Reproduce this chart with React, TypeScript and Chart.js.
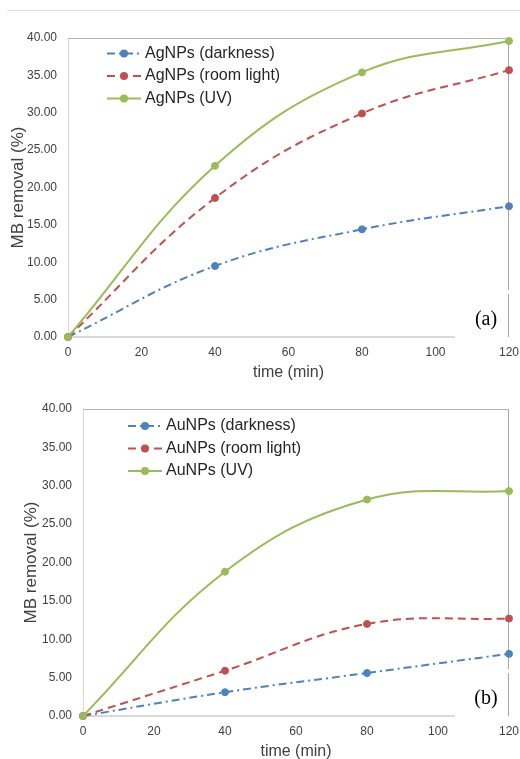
import React, { useEffect, useRef } from "react";
import { Chart, registerables } from "chart.js";

Chart.register(...registerables);

// ---- data ----
const timeMin = [0, 40, 80, 120];

const agDarkness = [0, 9.5, 14.4, 17.5];
const agRoomLight = [0, 18.6, 29.9, 35.7];
const agUV = [0, 22.9, 35.4, 39.6];

const auDarkness = [0, 3.1, 5.6, 8.1];
const auRoomLight = [0, 5.9, 12.0, 12.7];
const auUV = [0, 18.8, 28.2, 29.3];

const agLabels = ["AgNPs (darkness)", "AgNPs (room light)", "AgNPs (UV)"];
const auLabels = ["AuNPs (darkness)", "AuNPs (room light)", "AuNPs (UV)"];

const xTitle = "time (min)";
const yTitle = "MB removal (%)";

const COLORS = ["#4F81BD", "#C0504D", "#9BBB59"];
const DASHES = [[8, 4, 2, 4], [8, 5], []];

const FONT = "'Liberation Sans', Arial, sans-serif";
const TEXT = "#404040";

type PanelProps = {
  top: number;
  height: number;
  labels: string[];
  values: number[][];
  padTop: number;
  yAxisWidth: number;
  yTitlePad: number;
  legendDx: number;
  legendDy: number;
  tag: string;
};

function Panel(p: PanelProps) {
  const ref = useRef<HTMLCanvasElement | null>(null);
  useEffect(() => {
    if (!ref.current) return;
    const datasets = p.values.map((vals, i) => ({
      label: p.labels[i],
      data: vals.map((v, j) => ({ x: timeMin[j], y: v })),
      borderColor: COLORS[i],
      backgroundColor: COLORS[i],
      borderDash: DASHES[i],
      borderWidth: 2,
      pointRadius: 3.5,
      pointBorderWidth: 1,
      pointBorderColor: COLORS[i],
      pointBackgroundColor: COLORS[i],
      tension: 0.4,
      fill: false,
      clip: false as any,
      order: 3 - i,
    }));

    const decor = {
      id: "decor",
      beforeDatasetsDraw(chart: any) {
        const { ctx, chartArea: a } = chart;
        ctx.save();
        ctx.setLineDash([]);
        // left axis line
        ctx.strokeStyle = "#D9D9D9";
        ctx.lineWidth = 1;
        ctx.beginPath();
        ctx.moveTo(a.left + 0.5, a.top);
        ctx.lineTo(a.left + 0.5, a.bottom);
        ctx.stroke();
        // bottom axis line
        ctx.lineWidth = 2;
        ctx.beginPath();
        ctx.moveTo(a.left, a.bottom);
        ctx.lineTo(a.right - 54, a.bottom);
        ctx.stroke();
        // top border
        ctx.strokeStyle = "#B4B4B4";
        ctx.lineWidth = 1;
        ctx.beginPath();
        ctx.moveTo(a.left, a.top + 0.5);
        ctx.lineTo(a.right, a.top + 0.5);
        ctx.stroke();
        // right border (with small gap behind tag box)
        ctx.strokeStyle = "#A6A6A6";
        ctx.beginPath();
        ctx.moveTo(a.right - 0.5, a.top);
        ctx.lineTo(a.right - 0.5, a.bottom - 47);
        ctx.moveTo(a.right - 0.5, a.bottom - 43);
        ctx.lineTo(a.right - 0.5, a.bottom);
        ctx.stroke();
        ctx.restore();
      },
      afterDraw(chart: any) {
        const { ctx, chartArea: a } = chart;
        ctx.save();
        chart.data.datasets.forEach((ds: any, i: number) => {
          const y = a.top + p.legendDy + i * 22.5;
          const x0 = a.left + p.legendDx;
          ctx.strokeStyle = ds.borderColor;
          ctx.lineWidth = 2;
          ctx.setLineDash(ds.borderDash);
          ctx.beginPath();
          ctx.moveTo(x0, y);
          ctx.lineTo(x0 + 34, y);
          ctx.stroke();
          ctx.setLineDash([]);
          ctx.fillStyle = ds.borderColor;
          ctx.beginPath();
          ctx.arc(x0 + 17, y, 4, 0, Math.PI * 2);
          ctx.fill();
          ctx.fillStyle = "#262626";
          ctx.font = `16px ${FONT}`;
          ctx.textBaseline = "middle";
          ctx.textAlign = "left";
          ctx.fillText(ds.label, x0 + 38, y);
        });
        ctx.fillStyle = "#000";
        ctx.font = `20px 'Liberation Serif', 'Times New Roman', serif`;
        ctx.textAlign = "center";
        ctx.textBaseline = "middle";
        ctx.fillText(p.tag, a.right - 23, a.bottom - 17);
        ctx.restore();
      },
    };

    const chart = new Chart(ref.current, {
      type: "line",
      data: { datasets },
      options: {
        animation: false,
        responsive: false,
        maintainAspectRatio: false,
        layout: { padding: { top: p.padTop, right: 11, left: 0, bottom: 0 } },
        plugins: { legend: { display: false }, tooltip: { enabled: false } },
        scales: {
          x: {
            type: "linear",
            min: 0,
            max: 120,
            grid: { display: false, drawTicks: false },
            border: { display: false },
            ticks: { stepSize: 20, padding: 8, color: TEXT, font: { family: FONT, size: 12 } },
            title: {
              display: true,
              text: xTitle,
              color: TEXT,
              font: { family: FONT, size: 16 },
              padding: { top: 0, bottom: 0 },
            },
            afterFit: (s: any) => {
              s.height = 45;
              s.paddingLeft = 0;
              s.paddingRight = 0;
            },
          },
          y: {
            min: 0,
            max: 40,
            grid: { display: false, drawTicks: false },
            border: { display: false },
            ticks: {
              stepSize: 5,
              padding: 11,
              color: TEXT,
              font: { family: FONT, size: 12 },
              callback: (v: any) => Number(v).toFixed(2),
            },
            title: {
              display: true,
              text: yTitle,
              color: TEXT,
              font: { family: FONT, size: 17 },
              padding: { top: p.yTitlePad, bottom: 0 },
            },
            afterFit: (s: any) => {
              s.width = p.yAxisWidth;
              s.paddingTop = 0;
              s.paddingBottom = 0;
            },
          },
        },
      },
      plugins: [decor],
    } as any);
    return () => chart.destroy();
  }, []);
  return (
    <canvas
      ref={ref}
      width={520}
      height={p.height}
      style={{ position: "absolute", left: 0, top: p.top, width: 520, height: p.height }}
    />
  );
}

export default function App() {
  return (
    <div
      style={{
        position: "absolute",
        left: 0,
        top: 0,
        width: 520,
        height: 759,
        overflow: "hidden",
        background: "#fff",
      }}
    >
      <div
        style={{
          position: "absolute",
          left: 7,
          top: 10,
          width: 513,
          height: 0,
          borderTop: "1px solid #DDDDDD",
        }}
      />
      <Panel
        top={0}
        height={382}
        labels={agLabels}
        values={[agDarkness, agRoomLight, agUV]}
        padTop={38}
        yAxisWidth={68}
        yTitlePad={8}
        legendDx={39}
        legendDy={15.5}
        tag="(a)"
      />
      <Panel
        top={380}
        height={381}
        labels={auLabels}
        values={[auDarkness, auRoomLight, auUV]}
        padTop={29}
        yAxisWidth={83}
        yTitlePad={21}
        legendDx={45}
        legendDy={17}
        tag="(b)"
      />
    </div>
  );
}
